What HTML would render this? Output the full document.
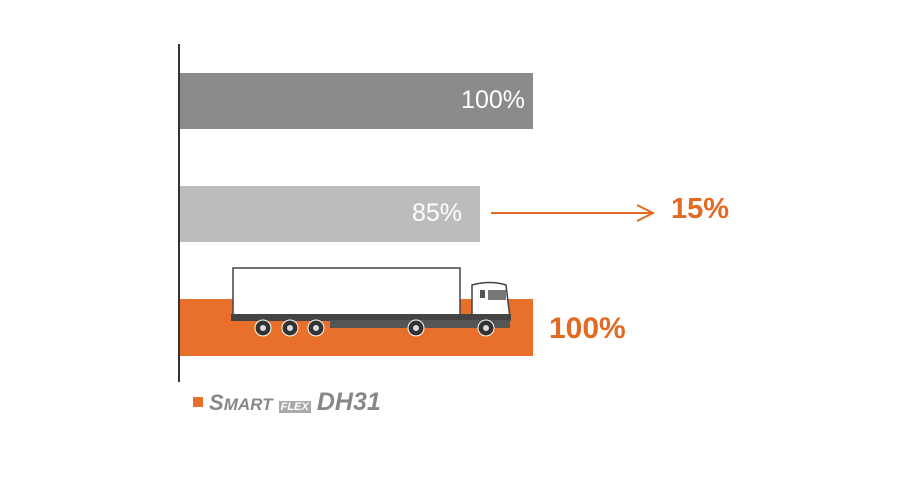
<!DOCTYPE html>
<html><head><style>
body{margin:0;width:920px;height:480px;background:#fff;position:relative;overflow:hidden;font-family:"Liberation Sans",sans-serif}
div{position:absolute}
.t{color:#fff;font-size:25px;text-align:right;font-weight:300}
.o{color:#e26a22;font-weight:bold;font-size:30px}
</style></head><body>
<div style="left:178px;top:44px;width:2px;height:338px;background:#333"></div>
<div style="left:180px;top:73px;width:353px;height:56px;background:#8b8b8b"></div>
<div class="t" style="left:400px;top:86px;width:125px">100%</div>
<div style="left:180px;top:186px;width:300px;height:56px;background:#bcbcbc"></div>
<div class="t" style="left:340px;top:199px;width:122px">85%</div>
<div style="left:180px;top:299px;width:353px;height:57px;background:#e8702a"></div>
<svg style="position:absolute;left:0;top:0" width="920" height="480">
<line x1="491" y1="213" x2="652" y2="213" stroke="#e26a22" stroke-width="2"/>
<polyline points="637,205 653,213 637,221" fill="none" stroke="#e26a22" stroke-width="2"/>
<rect x="233" y="268" width="227" height="47" fill="#fff" stroke="#444" stroke-width="1.5"/>
<path d="M472,285 Q490,280 506,285 L510,318 L472,318 Z" fill="#fff" stroke="#444" stroke-width="1.5"/>
<rect x="480" y="290" width="5" height="8" fill="#555"/>
<rect x="488" y="290" width="18" height="10" fill="#777"/>
<rect x="231" y="314" width="280" height="7" fill="#444"/>
<rect x="330" y="320" width="180" height="8" fill="#555"/>
<g fill="#333" stroke="#fff" stroke-width="1">
<circle cx="263" cy="328" r="8"/><circle cx="290" cy="328" r="8"/><circle cx="316" cy="328" r="8"/><circle cx="416" cy="328" r="8"/><circle cx="486" cy="328" r="8"/>
</g>
<g fill="#ddd"><circle cx="263" cy="328" r="3"/><circle cx="290" cy="328" r="3"/><circle cx="316" cy="328" r="3"/><circle cx="416" cy="328" r="3"/><circle cx="486" cy="328" r="3"/></g>
</svg>
<div class="o" style="left:671px;top:193px;font-size:29px">15%</div>
<div class="o" style="left:549px;top:312px">100%</div>
<div style="left:193px;top:397px;width:10px;height:10px;background:#e8702a"></div>
<div style="left:209px;top:388px;color:#888;font-style:italic;font-weight:bold;font-size:22px;white-space:nowrap">S<span style="font-size:17px">MART</span> <span style="font-size:11px;background:#aaa;color:#fff;padding:0 2px">FLEX</span> <span style="font-size:25px">DH31</span></div>
</body></html>
